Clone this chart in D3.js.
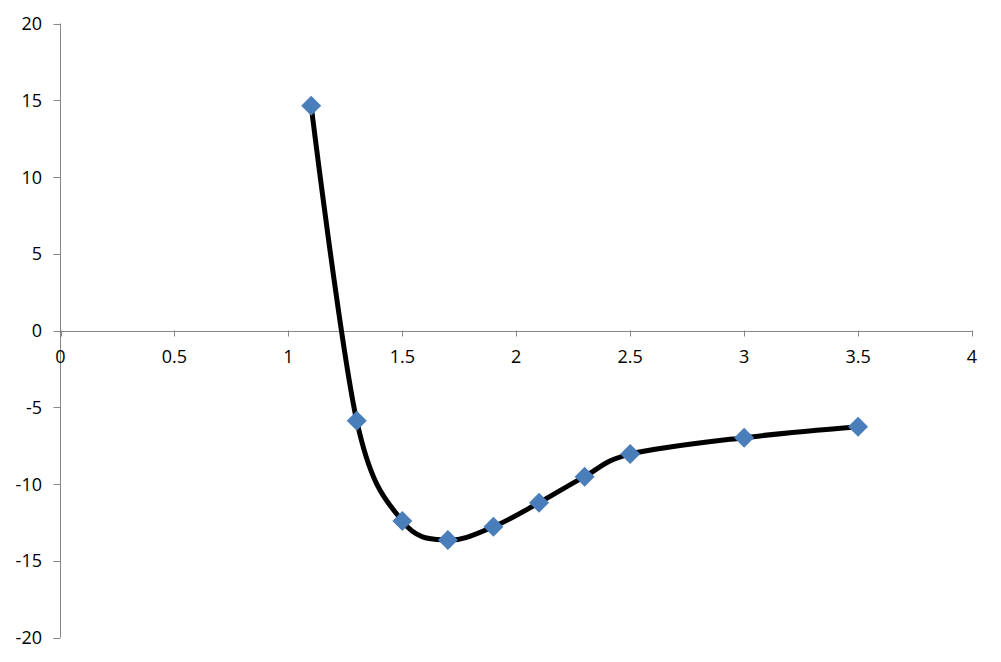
<!DOCTYPE html>
<html><head><meta charset="utf-8">
<script src="https://cdnjs.cloudflare.com/ajax/libs/d3/7.8.5/d3.min.js"></script>
<style>body{margin:0;background:#fff}svg{display:block}text{font-family:"Open Sans","Liberation Sans",sans-serif;font-size:18px;fill:#000}</style>
</head><body><svg id="c" width="1001" height="662"></svg>
<script>
const xValues=[1.1,1.3,1.5,1.7,1.9,2.1,2.3,2.5,3.0,3.5];
const yValues=[14.64,-5.88,-12.41,-13.65,-12.78,-11.22,-9.52,-8.05,-6.98,-6.27];
const xTicks=[0,0.5,1,1.5,2,2.5,3,3.5,4];
const yTicks=[20,15,10,5,0,-5,-10,-15,-20];

const svg=d3.select("#c");
const x=d3.scaleLinear().domain([0,4]).range([60.5,972]);
const y=d3.scaleLinear().domain([-20,20]).range([637.5,23.5]);
const axisColor="#868686";

// y axis
svg.append("line").attr("x1",x(0)).attr("x2",x(0)).attr("y1",y(20)).attr("y2",y(-20)).attr("stroke",axisColor);
const yg=svg.append("g");
yg.selectAll("line").data(yTicks).join("line")
 .attr("x1",x(0)-7).attr("x2",x(0)).attr("y1",d=>Math.round(y(d))+0.5).attr("y2",d=>Math.round(y(d))+0.5).attr("stroke",axisColor);
yg.selectAll("text").data(yTicks).join("text")
 .attr("x",42).attr("y",d=>y(d)+6.5).attr("text-anchor","end").text(d=>d);

// x axis
svg.append("line").attr("x1",x(0)).attr("x2",x(4)).attr("y1",Math.round(y(0))+0.5).attr("y2",Math.round(y(0))+0.5).attr("stroke",axisColor);
const xg=svg.append("g");
xg.selectAll("line").data(xTicks).join("line")
 .attr("x1",d=>Math.round(x(d))+0.5).attr("x2",d=>Math.round(x(d))+0.5).attr("y1",y(0)).attr("y2",y(0)+6).attr("stroke",axisColor);
xg.selectAll("text").data(xTicks).join("text")
 .attr("x",d=>x(d)).attr("y",363).attr("text-anchor","middle").text(d=>d);

const pts=xValues.map((v,i)=>[v,yValues[i]]);
const line=d3.line().x(d=>x(d[0])).y(d=>y(d[1])).curve(d3.curveCardinal.tension(0));
svg.append("path").datum(pts).attr("d",line).attr("fill","none").attr("stroke","#000").attr("stroke-width",5);

svg.selectAll("path.m").data(pts).join("path").attr("class","m")
 .attr("d",d3.symbol().type(d3.symbolSquare).size(200))
 .attr("transform",d=>`translate(${x(d[0])},${y(d[1])}) rotate(45)`)
 .attr("fill","#4a7ebb");
</script></body></html>
